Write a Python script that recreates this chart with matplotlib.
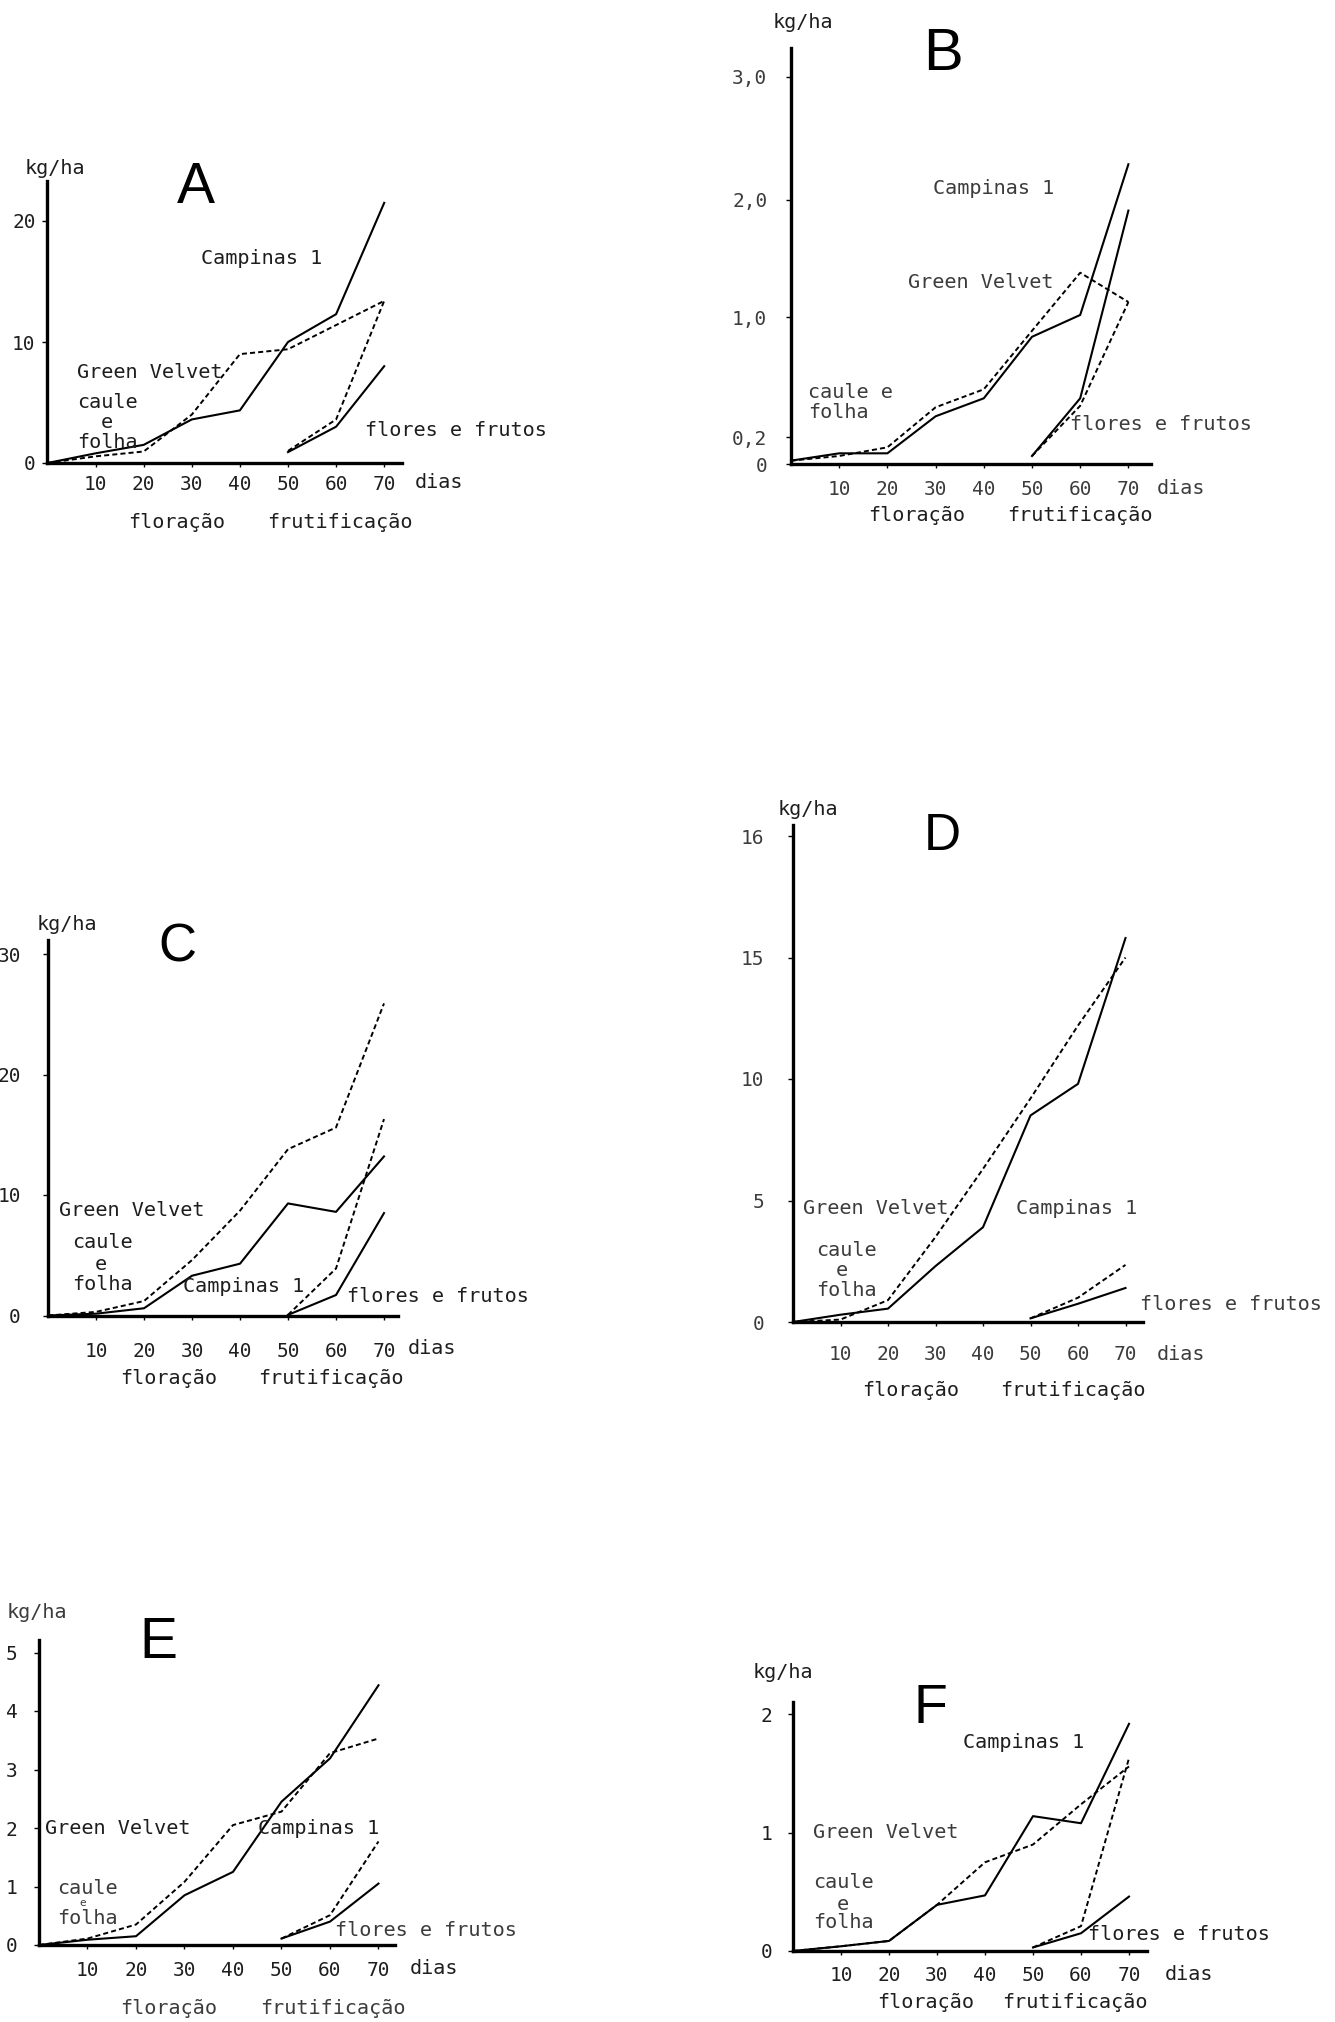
import numpy as np
import matplotlib
matplotlib.use("Agg")
import matplotlib.pyplot as plt

# ---------------- data ----------------
days = [0, 10, 20, 30, 40, 50, 60, 70]
days_ff = [50, 60, 70]
x_ticks = [10, 20, 30, 40, 50, 60, 70]
x_tick_labels = ["10", "20", "30", "40", "50", "60", "70"]

# A
a_camp_cf = [0, 0.8, 1.5, 3.6, 4.35, 10.0, 12.3, 21.5]
a_gv_cf = [0, 0.55, 0.95, 4.0, 9.0, 9.4, 11.4, 13.4]
a_camp_ff = [0.9, 3.0, 8.0]
a_gv_ff = [1.0, 3.6, 13.4]
a_yticks = [0, 10, 20]
a_ylabels = ["0", "10", "20"]

# B
b_camp_cf = [0.025, 0.08, 0.08, 0.34, 0.46, 0.87, 1.02, 2.29]
b_gv_cf = [0.025, 0.06, 0.125, 0.40, 0.52, 0.91, 1.38, 1.13]
b_camp_ff = [0.06, 0.46, 1.91]
b_gv_ff = [0.06, 0.41, 1.13]
b_yticks = [0, 0.2, 1.0, 2.0, 3.0]
b_ylabels = ["0", "0,2", "1,0", "2,0", "3,0"]
# panel B value axis is drawn non-uniformly: tick values and their drawn distance from 0
b_scale_vals = [0, 0.2, 1.0, 2.0, 3.0, 4.0]
b_scale_pos = [0, 26.7, 146.7, 264.0, 387.3, 510.6]

# C
c_camp_cf = [0, 0.15, 0.6, 3.3, 4.3, 9.3, 8.6, 13.2]
c_gv_cf = [0, 0.3, 1.2, 4.6, 8.7, 13.8, 15.6, 25.9]
c_camp_ff = [0.05, 1.7, 8.5]
c_gv_ff = [0.05, 3.9, 16.3]
c_yticks = [0, 10, 20, 30]
c_ylabels = ["0", "10", "20", "30"]

# D
d_camp_cf = [0, 0.3, 0.55, 2.3, 3.9, 8.5, 9.8, 15.8]
d_gv_cf = [0, 0.1, 0.9, 3.5, 6.3, 9.2, 12.2, 15.0]
d_camp_ff = [0.15, 0.75, 1.4]
d_gv_ff = [0.15, 1.0, 2.35]
d_yticks = [0, 5, 10, 15, 20]
d_ylabels = ["0", "5", "10", "15", "16"]

# E
e_camp_cf = [0, 0.09, 0.15, 0.85, 1.25, 2.45, 3.19, 4.44]
e_gv_cf = [0, 0.11, 0.35, 1.08, 2.05, 2.28, 3.28, 3.53]
e_camp_ff = [0.11, 0.4, 1.05]
e_gv_ff = [0.11, 0.51, 1.77]
e_yticks = [0, 1, 2, 3, 4, 5]
e_ylabels = ["0", "1", "2", "3", "4", "5"]

# F
f_camp_cf = [0, 0.04, 0.085, 0.39, 0.47, 1.14, 1.08, 1.92]
f_gv_cf = [0, 0.04, 0.085, 0.39, 0.75, 0.9, 1.24, 1.56]
f_camp_ff = [0.03, 0.15, 0.46]
f_gv_ff = [0.03, 0.21, 1.63]
f_yticks = [0, 1, 2]
f_ylabels = ["0", "1", "2"]

# ---------------- figure ----------------
W, H = 1335, 2022
fig = plt.figure(figsize=(W / 100, H / 100), dpi=100)
fig.patch.set_facecolor("white")
MONO = ["DejaVu Sans Mono"]
SANS = ["Liberation Sans", "DejaVu Sans"]
TXT = "#1e1e1e"
GREY = "#3c3c3c"
FS = 14.5     # annotation text size
TFS = 14      # tick label size
DASH = (0, (2.6, 1.6))


def ftext(x, y, s, size=FS, ha="left", va="center", family=MONO, color=TXT):
    fig.text(x / W, 1 - y / H, s, fontsize=size, ha=ha, va=va,
             family=family, color=color)


def letter(xc, ybottom, s, size):
    fig.text(xc / W, 1 - ybottom / H, s, fontsize=size, ha="center",
             va="baseline", family=SANS, color="black")


def style_axes(ax, ypad, xpad, tcolor=TXT):
    ax.patch.set_alpha(0)
    for s in ("top", "right"):
        ax.spines[s].set_visible(False)
    for s in ("left", "bottom"):
        ax.spines[s].set_linewidth(2.4)
        ax.spines[s].set_color("black")
    ax.tick_params(axis="y", direction="out", length=3.6, width=1.0,
                   pad=ypad, labelsize=TFS, colors="black", labelcolor=tcolor)
    ax.tick_params(axis="x", direction="out", length=2.8, width=1.0,
                   pad=xpad, labelsize=TFS, colors="black", labelcolor=tcolor)
    ax.set_xticks(x_ticks)
    ax.set_xticklabels(x_tick_labels, family=MONO)


def make_axes(x0, y0, px_x, px_y, x_end, y_top, ypad, xpad, tcolor=TXT):
    ax = fig.add_axes([x0 / W, 1 - y0 / H, (x_end - x0) / W, (y0 - y_top) / H])
    ax.set_xlim(0, (x_end - x0) / px_x)
    ax.set_ylim(0, (y0 - y_top) / px_y)
    style_axes(ax, ypad, xpad, tcolor)
    return ax


def draw(ax, camp_cf, gv_cf, camp_ff, gv_ff):
    ax.plot(days, camp_cf, color="black", lw=1.5, ls="-", clip_on=False)
    ax.plot(days, gv_cf, color="black", lw=1.4, ls=DASH, clip_on=False)
    ax.plot(days_ff, camp_ff, color="black", lw=1.5, ls="-", clip_on=False)
    ax.plot(days_ff, gv_ff, color="black", lw=1.4, ls=DASH, clip_on=False)


# ---- Panel A ----
axA = make_axes(47.5, 463, 4.81, 12.1, 402, 181, 5, 5.5)
axA.set_yticks(a_yticks)
axA.set_yticklabels(a_ylabels, family=MONO)
draw(axA, a_camp_cf, a_gv_cf, a_camp_ff, a_gv_ff)
ftext(25, 168, "kg/ha")
letter(196, 203, "A", 41)
ftext(201, 258, "Campinas 1")
ftext(77, 372, "Green Velvet")
ftext(77, 402, "caule")
ftext(107, 422, "e", ha="center")
ftext(77, 442, "folha")
ftext(365, 430, "flores e frutos")
ftext(415, 483, "dias")
ftext(128, 523, "floração")
ftext(267, 523, "frutificação")

# ---- Panel B ----
bx0, by0, bxend, bytop = 791, 464, 1151, 48
axB = fig.add_axes([bx0 / W, 1 - by0 / H, (bxend - bx0) / W, (by0 - bytop) / H])
fwd = lambda v: np.interp(v, b_scale_vals, b_scale_pos)
inv = lambda p: np.interp(p, b_scale_pos, b_scale_vals)
axB.set_yscale("function", functions=(fwd, inv))
axB.set_xlim(0, (bxend - bx0) / 4.82)
axB.set_ylim(0, float(inv(by0 - bytop)))
style_axes(axB, 13.5, 8.5, GREY)
axB.set_yticks(b_yticks)
axB.set_yticklabels(b_ylabels, family=MONO)
axB.minorticks_off()
draw(axB, b_camp_cf, b_gv_cf, b_camp_ff, b_gv_ff)
ftext(773, 23, "kg/ha")
letter(943, 70, "B", 43)
ftext(933, 189, "Campinas 1", color=GREY)
ftext(908, 282, "Green Velvet", color=GREY)
ftext(808, 393, "caule e", color=GREY)
ftext(808, 413, "folha", color=GREY)
ftext(1070, 425, "flores e frutos", color=GREY)
ftext(1157, 488, "dias", color=GREY)
ftext(868, 516, "floração")
ftext(1007, 516, "frutificação")

# ---- Panel C ----
axC = make_axes(48, 1315.5, 4.8, 12.05, 398, 940, 16, 16)
axC.set_yticks(c_yticks)
axC.set_yticklabels(c_ylabels, family=MONO)
draw(axC, c_camp_cf, c_gv_cf, c_camp_ff, c_gv_ff)
ftext(37, 925, "kg/ha")
letter(177, 962, "C", 38)
ftext(59, 1211, "Green Velvet")
ftext(72, 1243, "caule")
ftext(101, 1265, "e", ha="center")
ftext(72, 1285, "folha")
ftext(183, 1286, "Campinas 1")
ftext(347, 1297, "flores e frutos")
ftext(408, 1349, "dias")
ftext(120, 1378, "floração")
ftext(258, 1378, "frutificação")

# ---- Panel D ----
axD = make_axes(793, 1322, 4.75, 24.3, 1143, 825, 17, 13.5, GREY)
axD.set_yticks(d_yticks)
axD.set_yticklabels(d_ylabels, family=MONO)
draw(axD, d_camp_cf, d_gv_cf, d_camp_ff, d_gv_ff)
ftext(778, 809, "kg/ha")
letter(942, 850, "D", 37)
ftext(803, 1208, "Green Velvet", color=GREY)
ftext(1016, 1208, "Campinas 1", color=GREY)
ftext(816, 1250, "caule", color=GREY)
ftext(842, 1270, "e", ha="center", color=GREY)
ftext(816, 1290, "folha", color=GREY)
ftext(1140, 1305, "flores e frutos", color=GREY)
ftext(1157, 1354, "dias", color=GREY)
ftext(862, 1390, "floração")
ftext(1000, 1390, "frutificação")

# ---- Panel E ----
axE = make_axes(39, 1945, 4.85, 58.5, 395, 1640, 12, 8.5)
axE.set_yticks(e_yticks)
axE.set_yticklabels(e_ylabels, family=MONO)
draw(axE, e_camp_cf, e_gv_cf, e_camp_ff, e_gv_ff)
ftext(7, 1612, "kg/ha", color=GREY)
letter(158, 1658, "E", 41)
ftext(45, 1829, "Green Velvet")
ftext(258, 1829, "Campinas 1")
ftext(57, 1888, "caule", color=GREY)
ftext(83, 1903, "e", size=8, ha="center", color=GREY)
ftext(57, 1919, "folha", color=GREY)
ftext(335, 1930, "flores e frutos", color=GREY)
ftext(410, 1969, "dias")
ftext(120, 2008, "floração", color=GREY)
ftext(260, 2008, "frutificação", color=GREY)

# ---- Panel F ----
axF = make_axes(793, 1951, 4.8, 118.3, 1147, 1702, 11, 8)
axF.set_yticks(f_yticks)
axF.set_yticklabels(f_ylabels, family=MONO)
draw(axF, f_camp_cf, f_gv_cf, f_camp_ff, f_gv_ff)
ftext(753, 1673, "kg/ha")
letter(930, 1723, "F", 40)
ftext(963, 1742, "Campinas 1")
ftext(813, 1833, "Green Velvet", color=GREY)
ftext(813, 1883, "caule", color=GREY)
ftext(843, 1904, "e", ha="center", color=GREY)
ftext(813, 1923, "folha", color=GREY)
ftext(1088, 1934, "flores e frutos")
ftext(1165, 1974, "dias")
ftext(877, 2002, "floração")
ftext(1002, 2002, "frutificação")

fig.savefig("out.png", dpi=100, facecolor="white")
